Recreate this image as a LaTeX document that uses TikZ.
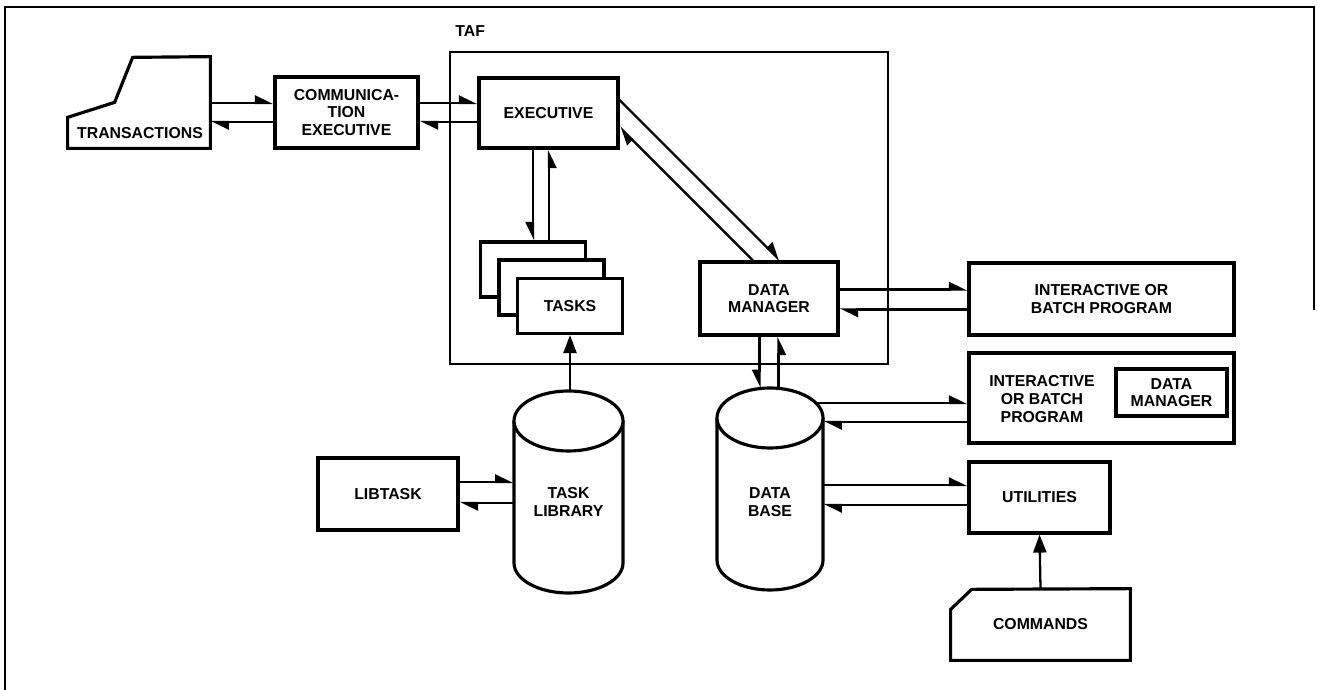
\documentclass[tikz,border=0pt]{standalone}
\usepackage{fontspec}
\setmainfont{Liberation Sans}
\usepackage{tikz}
\usetikzlibrary{arrows.meta,positioning}

\begin{document}
\begin{tikzpicture}[x=0.2mm, y=-0.2mm,
          box/.style={rectangle, draw, fill=white, line width=1.8pt, inner sep=0pt, align=center, font=\fontsize{9}{10}\selectfont\bfseries},
          ghost/.style={rectangle, inner sep=0pt, align=center, font=\fontsize{9}{10}\selectfont\bfseries},
          cylline/.style={line width=1.8pt, line join=miter},
          fwd/.style={-{Triangle[harpoon, length=3.2mm, width=3mm]}, line width=1.3pt},
          fwdsw/.style={-{Triangle[harpoon, swap, length=3.2mm, width=3mm]}, line width=1.3pt},
          feed/.style={-{Triangle[length=3.6mm, width=2.6mm]}, line width=1.3pt}
        ]
          \useasboundingbox (0,0) rectangle (1317,690);
          \draw[line width=1pt] (1314,310) -- (1314,7) -- (5,7) -- (5,690);

          \node[ghost, minimum width=28.4mm, minimum height=18.2mm] (trans) at (139,102.5) {};
          \draw[cylline] (trans.south west) -- ++(0,-31) -- ++(47,-15) -- ++(18,-45) -- (trans.north east) -- (trans.south east) -- cycle;
          \node[ghost] (transtext) at (140,133) {TRANSACTIONS};

          \node[box, fill=none, line width=1.5pt, minimum width=87.6mm, minimum height=62.4mm] (taf) at (669,208) {};
          \node[ghost, anchor=west] (taflbl) at (455,31) {TAF};

          \node[box, minimum width=28.6mm, minimum height=14.2mm] (commex) at (346.5,112.5) {COMMUNICA-\\TION\\EXECUTIVE};
          \node[box, minimum width=27.8mm, minimum height=14mm] (exec) at (548.5,113) {EXECUTIVE};
          \node[box, minimum width=21mm, minimum height=11mm] (task1) at (533,269.5) {};
          \node[box, minimum width=21mm, minimum height=11mm] (task2) at (551.5,287.5) {};
          \node[box, minimum width=21mm, minimum height=11mm] (task3) at (570,306) {TASKS};
          \node[box, minimum width=27.6mm, minimum height=14.6mm] (dm) at (769,298.5) {DATA\\MANAGER};

          \node[box, minimum width=53mm, minimum height=14.4mm] (batch) at (1101.5,299) {INTERACTIVE OR\\BATCH PROGRAM};
          \node[box, minimum width=53mm, minimum height=18mm] (batchdm) at (1101.5,398) {};
          \node[ghost] (batchdmtext) at (1042,399) {INTERACTIVE\\OR BATCH\\PROGRAM};
          \node[box, minimum width=22.2mm, minimum height=9.4mm] (innerdm) at (1171.5,392.5) {DATA\\MANAGER};

          \node[box, minimum width=28mm, minimum height=14.4mm] (libtask) at (388,494) {LIBTASK};
          \node[box, minimum width=28.2mm, minimum height=14.2mm] (util) at (1039.5,497.5) {UTILITIES};
          \node[ghost, minimum width=35.8mm, minimum height=14.2mm] (cmds) at (1040.5,624.5) {COMMANDS};
          \draw[cylline] (cmds.south west) -- ++(0,-51) -- ++(21,-20) -- (cmds.north east) -- (cmds.south east) -- cycle;

          \draw[cylline] (514,421) -- (514,563) arc[start angle=180, end angle=360, x radius=10.9mm, y radius=6mm] -- (623,421);
          \draw[cylline, fill=white] (568.5,421) ellipse [x radius=10.9mm, y radius=6mm];
          \node[ghost, minimum width=21.8mm] (tlib) at (568.5,502) {TASK\\LIBRARY};
          \coordinate (tlibtop) at (568.5,391);

          \draw[cylline] (717,418) -- (717,560) arc[start angle=180, end angle=360, x radius=10.6mm, y radius=6mm] -- (823,418);
          \draw[cylline, fill=white] (770,418) ellipse [x radius=10.6mm, y radius=6mm];
          \node[ghost, minimum width=21.2mm] (dbase) at (770,502) {DATA\\BASE};
          \coordinate (dbtop) at (770,388);

          \draw[fwd] ([yshift=1.9mm]commex.west -| trans.east) -- ([yshift=1.9mm]commex.west);
          \draw[fwd] ([yshift=-1.9mm]commex.west) -- ([yshift=-1.9mm]commex.west -| trans.east);
          \draw[fwd] ([yshift=1.9mm]commex.east) -- ([yshift=1.9mm]commex.east -| exec.west);
          \draw[fwd] ([yshift=-1.9mm]commex.east -| exec.west) -- ([yshift=-1.9mm]commex.east);

          \draw[fwdsw] (exec.south -| task1.north) -- (task1.north);
          \draw[fwdsw] ([xshift=3.2mm]task1.north) -- ([xshift=3.2mm]task1.north |- exec.south);
          \draw[fwd] ([yshift=2.6mm]exec.east) -- ([xshift=2.2mm]dm.north);
          \draw[fwd] ([xshift=-3.2mm]dm.north) -- ([yshift=-2.8mm]exec.east);

          \draw[fwdsw] ([xshift=-1.9mm]dm.south) -- ([xshift=-1.9mm]dm.south |- dbtop);
          \draw[fwdsw] ([xshift=1.9mm]dm.south |- dbtop) -- ([xshift=1.9mm]dm.south);
          \draw[fwd] ([yshift=1.8mm]dm.east) -- ([yshift=1.8mm]dm.east -| batch.west);
          \draw[fwd] ([yshift=-2.2mm]dm.east -| batch.west) -- ([yshift=-2.2mm]dm.east);

          \draw[fwd] ([xshift=-1.4mm, yshift=-1mm]batchdm.west -| dbase.east) -- ([yshift=-1mm]batchdm.west);
          \draw[fwd] ([yshift=-4.8mm]batchdm.west) -- ([yshift=-4.8mm]batchdm.west -| dbase.east);
          \draw[fwd] ([yshift=2.5mm]util.west -| dbase.east) -- ([yshift=2.5mm]util.west);
          \draw[fwd] ([yshift=-1.5mm]util.west) -- ([yshift=-1.5mm]util.west -| dbase.east);

          \draw[fwd] ([yshift=2.4mm]libtask.east) -- ([yshift=2.4mm]libtask.east -| tlib.west);
          \draw[fwd] ([yshift=-1.8mm]libtask.east -| tlib.west) -- ([yshift=-1.8mm]libtask.east);

          \draw[feed] (task3.south |- tlibtop) -- (task3.south);
          \draw[feed] (cmds.north) -- (util.south);
        \end{tikzpicture}
\end{document}
